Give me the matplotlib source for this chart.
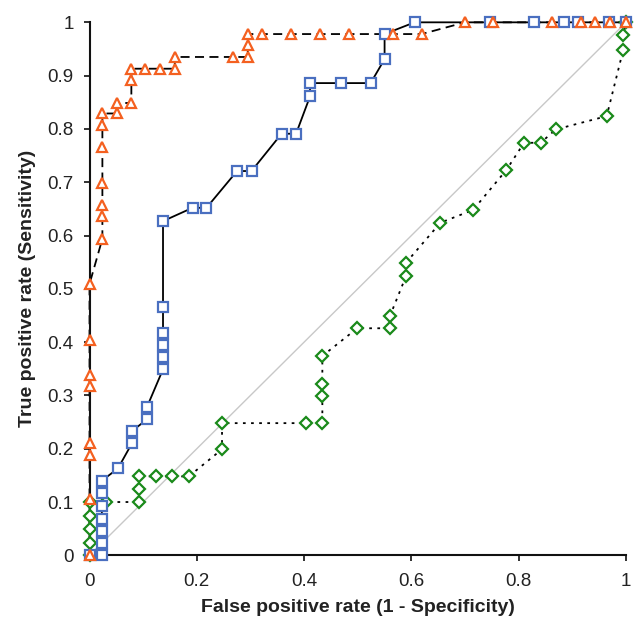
import matplotlib
matplotlib.use("Agg")
import matplotlib.pyplot as plt

plt.rcParams['font.family'] = ['Liberation Sans', 'DejaVu Sans']

# Orange (triangles, dashed)
orange_x = [0, 0, 0, 0, 0, 0, 0, 0,
            0.024, 0.024, 0.024, 0.024, 0.024, 0.024, 0.024,
            0.051, 0.051, 0.078, 0.078, 0.078,
            0.104, 0.132, 0.159, 0.159, 0.267, 0.295, 0.295, 0.295,
            0.322, 0.376, 0.429, 0.483, 0.566, 0.619,
            0.700, 0.752, 0.862, 0.916, 0.943, 0.970, 1.0]
orange_y = [0, 0.105, 0.188, 0.210, 0.318, 0.338, 0.404, 0.509,
            0.594, 0.636, 0.658, 0.699, 0.766, 0.808, 0.829,
            0.829, 0.848, 0.849, 0.891, 0.913,
            0.913, 0.913, 0.913, 0.935, 0.935, 0.935, 0.957, 0.978,
            0.978, 0.978, 0.978, 0.978, 0.978, 0.978,
            1.0, 1.0, 1.0, 1.0, 1.0, 1.0, 1.0]

# Blue (squares, solid)
blue_x = [0, 0.023, 0.023, 0.023, 0.023, 0.023, 0.023, 0.023,
          0.053, 0.079, 0.079, 0.107, 0.107,
          0.137, 0.137, 0.137, 0.137, 0.137, 0.137,
          0.192, 0.218, 0.275, 0.302, 0.358, 0.385,
          0.411, 0.411, 0.468, 0.524, 0.550, 0.550,
          0.606, 0.746, 0.829, 0.885, 0.911, 0.968, 1.0]
blue_y = [0, 0, 0.023, 0.046, 0.069, 0.092, 0.116, 0.140,
          0.163, 0.210, 0.233, 0.255, 0.278,
          0.349, 0.372, 0.394, 0.418, 0.465, 0.627,
          0.652, 0.652, 0.721, 0.721, 0.791, 0.791,
          0.861, 0.886, 0.886, 0.886, 0.931, 0.978,
          1.0, 1.0, 1.0, 1.0, 1.0, 1.0, 1.0]

# Green (diamonds, dotted)
green_x = [0, 0, 0, 0, 0, 0.030, 0.092, 0.092, 0.092, 0.123, 0.154, 0.185,
           0.247, 0.247, 0.404, 0.434, 0.434, 0.434, 0.434,
           0.499, 0.560, 0.560, 0.590, 0.590, 0.654, 0.715,
           0.777, 0.810, 0.841, 0.869, 0.964, 0.995, 0.995, 1.0]
green_y = [0, 0.023, 0.049, 0.074, 0.100, 0.100, 0.100, 0.124, 0.148, 0.148, 0.148, 0.148,
           0.199, 0.248, 0.248, 0.248, 0.299, 0.322, 0.374,
           0.426, 0.426, 0.449, 0.524, 0.549, 0.624, 0.648,
           0.723, 0.774, 0.774, 0.799, 0.824, 0.949, 0.976, 1.0]

x_ticks = [0, 0.2, 0.4, 0.6, 0.8, 1.0]
x_tick_labels = ["0", "0.2", "0.4", "0.6", "0.8", "1"]
y_ticks = [0, 0.1, 0.2, 0.3, 0.4, 0.5, 0.6, 0.7, 0.8, 0.9, 1.0]
y_tick_labels = ["0", "0.1", "0.2", "0.3", "0.4", "0.5", "0.6", "0.7", "0.8", "0.9", "1"]

fig = plt.figure(figsize=(6.38, 6.22), dpi=100)
ax = fig.add_axes([0.1403, 0.1072, 0.8409, 0.8569])

ax.plot([0, 1], [0, 1], color='#c8c8c8', lw=1.0, zorder=1, clip_on=False)

ax.plot(green_x, green_y, color='black', lw=1.3, linestyle=(0, (1.5, 3)),
        zorder=2, clip_on=False)
ax.plot(blue_x, blue_y, color='black', lw=1.3, linestyle='-', zorder=2, clip_on=False)
ax.plot(orange_x, orange_y, color='black', lw=1.3, linestyle=(0, (5, 3)),
        zorder=2, clip_on=False)

ax.plot(green_x, green_y, linestyle='none', marker='D', ms=6, mfc='white',
        mec='#1a8a1a', mew=1.6, zorder=3, clip_on=False)
ax.plot(blue_x, blue_y, linestyle='none', marker='s', ms=6.5, mfc='white',
        mec='#4a6fc0', mew=1.6, zorder=4, clip_on=False)
ax.plot(orange_x, orange_y, linestyle='none', marker='^', ms=7.5, mfc='white',
        mec='#f46020', mew=1.6, zorder=5, clip_on=False)

ax.set_xlim(0, 1)
ax.set_ylim(0, 1)
ax.set_xticks(x_ticks)
ax.set_xticklabels(x_tick_labels)
ax.set_yticks(y_ticks)
ax.set_yticklabels(y_tick_labels)
ax.tick_params(direction='out', length=4.5, width=1.3, labelsize=13.5, colors='#222222')
ax.tick_params(axis='x', pad=8)
ax.tick_params(axis='y', pad=7)
for s in ['top', 'right']:
    ax.spines[s].set_visible(False)
for s in ['left', 'bottom']:
    ax.spines[s].set_linewidth(1.5)
    ax.spines[s].set_color('#111111')

ax.set_xlabel("False positive rate (1 - Specificity)", fontsize=14, fontweight='bold',
              color='#222222', labelpad=7)
ax.set_ylabel("True positive rate (Sensitivity)", fontsize=14, fontweight='bold',
              color='#222222', labelpad=8)

fig.savefig("out.png", dpi=100)
